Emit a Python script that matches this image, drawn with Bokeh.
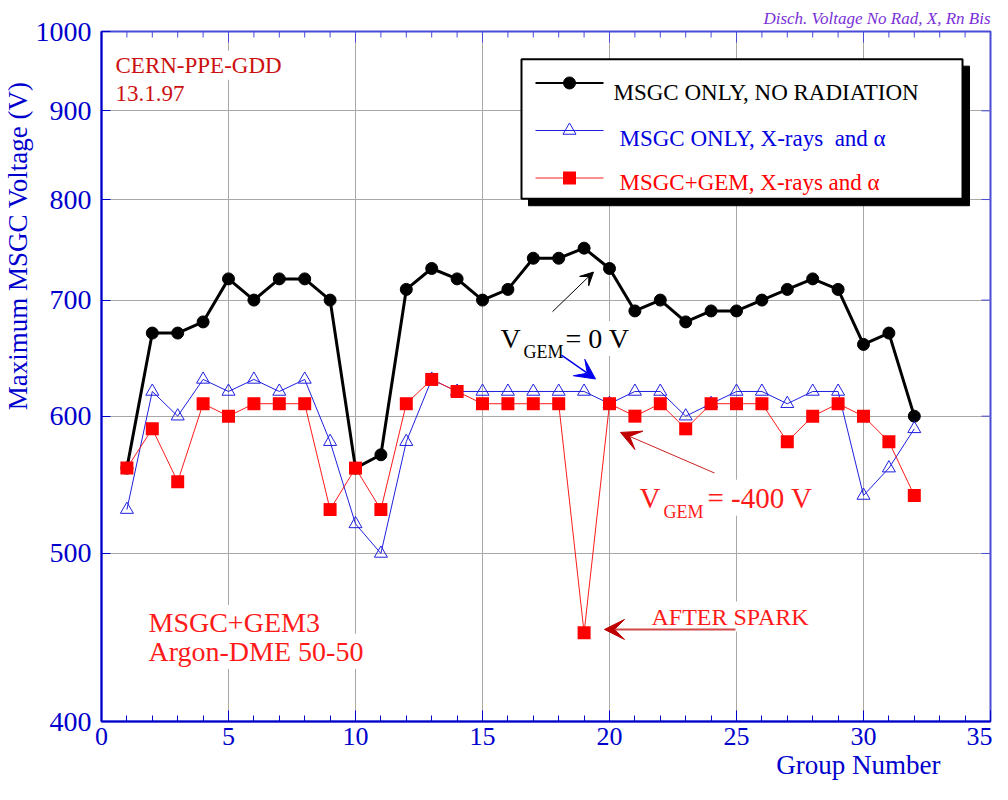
import math
from bokeh.plotting import figure
from bokeh.models import (Range1d, FixedTicker, SingleIntervalTicker, PrintfTickFormatter,
                          Label, Arrow, VeeHead, ColumnDataSource, Title)
from bokeh.embed import file_html
from bokeh.resources import INLINE

# ---------------- data ----------------
group = list(range(1, 33))
no_radiation = [560, 670, 670, 680, 720, 700, 720, 720, 700, 560, 570, 710, 730, 720, 700, 710,
                740, 740, 750, 730, 690, 700, 680, 690, 690, 700, 710, 720, 710, 660, 670, 600]
msgc_xrays = [530, 620, 600, 630, 620, 630, 620, 630, 580, 520, 500, 580, 630, 620, 620, 620,
              620, 620, 620, 610, 620, 620, 600, 610, 620, 620, 610, 620, 620, 540, 560, 590]
gem_xrays = [560, 590, 550, 610, 600, 610, 610, 610, 530, 560, 530, 610, 630, 620, 610, 610,
             610, 610, 450, 610, 600, 610, 590, 610, 610, 610, 580, 600, 610, 600, 580, 540]
x_ticks = [0, 5, 10, 15, 20, 25, 30, 35]
x_minor_ticks = list(range(0, 36))
y_ticks = [400, 500, 600, 700, 800, 900, 1000]
series_labels = ["MSGC ONLY, NO RADIATION", "MSGC ONLY, X-rays\u00a0 and \u03b1",
                 "MSGC+GEM, X-rays and \u03b1"]

# ---------------- layout ----------------
W, H = 992, 784
# frame in the reference picture (used to place annotations at their data positions)
RL, RR, RT, RB = 101, 990, 35, 732
# frame of this page
FL, FR, FT, FB = 101, 990, 31, 721
X0, X1, Y0, Y1 = 0, 35, 400, 1000
FONT = "Liberation Serif"
BLUE = "#0000cc"
BLUE2 = "#4a4ad8"
RED = "#ff1a1a"
DRED = "#c00000"


def dx(px, l=RL, r=RR):
    return X0 + (px - l) / (r - l) * (X1 - X0)


def dy(py, t=RT, b=RB):
    return Y0 * (Y1 / Y0) ** ((b - py) / (b - t))


p = figure(width=W, height=H, x_range=Range1d(X0, X1), y_range=Range1d(Y0, Y1),
           y_axis_type="log", output_backend="svg", toolbar_location=None,
           min_border_left=FL, min_border_right=W - FR,
           min_border_top=FT, min_border_bottom=H - FB)
p.outline_line_color = BLUE2
p.outline_line_width = 2
p.background_fill_color = "white"
p.border_fill_color = "white"

# top-right caption
p.title.text = "Disch. Voltage No Rad, X, Rn Bis"
p.title.align = "right"
p.title.text_font = FONT
p.title.text_font_style = "italic"
p.title.text_font_size = "17px"
p.title.text_color = "#7a2fd8"
p.title.standoff = 7

ax = p.xaxis[0]
ax.ticker = SingleIntervalTicker(interval=5, num_minor_ticks=5)
ay = p.yaxis[0]
ay.ticker = FixedTicker(ticks=y_ticks)
ay.formatter = PrintfTickFormatter(format="%d")

for a in (ax, ay):
    a.axis_line_color = BLUE
    a.axis_line_width = 2
    a.major_tick_line_color = BLUE
    a.minor_tick_line_color = BLUE
    a.major_tick_in = 11
    a.major_tick_out = 0
    a.minor_tick_in = 6
    a.minor_tick_out = 0
    a.major_label_text_font = FONT
    a.major_label_text_color = BLUE
ax.major_label_text_font_size = "26px"
ax.major_label_standoff = 6
ay.major_label_text_font_size = "28px"
ay.major_label_standoff = 10
ay.major_tick_in = 9

p.add_layout(Title(text="Group Number", align="right", offset=50, standoff=0,
                   text_font=FONT, text_font_size="27px", text_font_style="normal",
                   text_color=BLUE), "below")
p.add_layout(Title(text="Maximum MSGC Voltage (V)", align="right", offset=50, standoff=0,
                   text_font=FONT, text_font_size="27px", text_font_style="normal",
                   text_color=BLUE), "left")

p.xgrid.grid_line_color = "#a8a8a8"
p.ygrid.grid_line_color = "#a8a8a8"

# top and right tick marks (inward), no labels
top_len = [11 if t in x_ticks else 6 for t in x_minor_ticks]
p.segment(x0=x_minor_ticks, x1=x_minor_ticks, y0=[Y1] * len(x_minor_ticks),
          y1=[dy(FT + n, FT, FB) for n in top_len], line_color=BLUE2, line_width=1)
p.segment(x0=[X1] * len(y_ticks), x1=[dx(FR - 9, FL, FR)] * len(y_ticks),
          y0=y_ticks, y1=y_ticks, line_color=BLUE2, line_width=1)

# ---------------- series ----------------
src = ColumnDataSource(dict(g=group, a=no_radiation, b=msgc_xrays, c=gem_xrays))
p.line("g", "a", source=src, line_color="black", line_width=3)
p.scatter("g", "a", source=src, marker="circle", size=12, fill_color="black", line_color="black")
p.line("g", "b", source=src, line_color="#1f1fe0", line_width=1)
p.scatter("g", "b", source=src, marker="triangle", size=13, fill_color=None,
          line_color="#1f1fe0", line_width=1)
p.line("g", "c", source=src, line_color=RED, line_width=1)
p.scatter("g", "c", source=src, marker="square", size=13, fill_color="#ff0000", line_color=None)

# ---------------- legend box ----------------
p.quad(left=[dx(528)], right=[dx(969)], top=[dy(70)], bottom=[dy(211)],
       fill_color="black", line_color="black")
p.quad(left=[dx(521)], right=[dx(962)], top=[dy(63)], bottom=[dy(204)],
       fill_color="white", line_color="black", line_width=2)
leg_y = [87, 135, 183]
leg_styles = [("black", 2, "circle", "black", "black", 12),
              ("#1f1fe0", 1, "triangle", None, "#1f1fe0", 13),
              (RED, 1, "square", "#ff0000", None, 13)]
for yy, (lc, lw, mk, fc, mlc, sz) in zip(leg_y, leg_styles):
    p.line([dx(535), dx(603)], [dy(yy), dy(yy)], line_color=lc, line_width=lw)
    p.scatter([dx(569)], [dy(yy)], marker=mk, size=sz, fill_color=fc, line_color=mlc)

leg_text = [(613, 97, "black"), (619, 143, "#0000e0"), (619, 188, "#ff0000")]
for (lx, ly, col), txt in zip(leg_text, series_labels):
    p.add_layout(Label(x=dx(lx), y=dy(ly), text=txt, text_font=FONT, text_font_size="23px",
                       text_color=col, text_baseline="alphabetic", text_align="left"))


def lab(px, py, txt, size, color, bg=True):
    kw = dict(x=dx(px), y=dy(py), text=txt, text_font=FONT, text_font_size=size,
              text_color=color, text_align="left", text_baseline="alphabetic")
    if bg:
        kw.update(background_fill_color="white", padding=2)
    p.add_layout(Label(**kw))


# ---------------- annotations ----------------
lab(113, 69, "CERN-PPE-GDD", "23px", "#cc1010")
lab(113, 98, "13.1.97", "23px", "#cc1010")

lab(498, 345, "V", "28px", "black")
lab(521, 359, "GEM", "18px", "black")
lab(563, 345, "= 0 V", "28px", "black")

lab(637, 506, "V", "29px", RED)
lab(661, 520, "GEM", "18px", RED)
lab(705, 506, "= -400 V", "29px", RED)

lab(146, 632, "MSGC+GEM3", "28px", RED)
lab(146, 661, "Argon-DME 50-50", "28px", RED)
lab(649, 626, "AFTER SPARK", "24px", RED)

arrows = [((552, 318), (593, 278), "black", 1, 13, "black"),
          ((561, 362), (595, 386), "#0000ee", 1.5, 20, "#0000ee"),
          ((714, 481), (620, 440), "#cc2020", 1, 20, DRED),
          ((735, 639), (604, 639), "#d04848", 2, 20, DRED)]
for (sx, sy), (ex, ey), lc, lw, hs, hc in arrows:
    p.add_layout(Arrow(end=VeeHead(size=hs, fill_color=hc, line_color=hc),
                       x_start=dx(sx), y_start=dy(sy), x_end=dx(ex), y_end=dy(ey),
                       line_color=lc, line_width=lw))

open("out.html", "w").write(file_html(p, INLINE))
